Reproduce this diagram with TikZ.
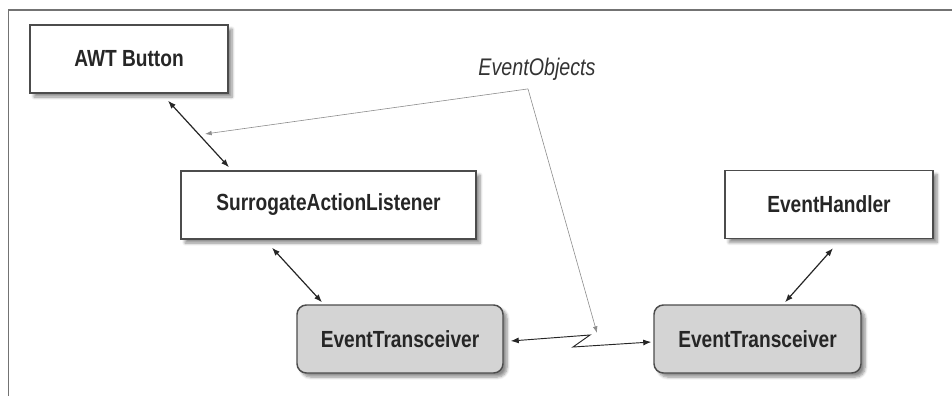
\documentclass[tikz,border=0pt]{standalone}
\usepackage{fontspec}
\setmainfont{Liberation Sans}[FakeStretch=0.82]
\usetikzlibrary{positioning,calc,arrows.meta,shadows.blur}

\begin{document}
\begin{tikzpicture}[
  x=0.75pt, y=-0.75pt,
  plainbox/.style={draw=black!70, line width=1.1pt, fill=white,
    minimum height=51pt, inner sep=0pt, align=center,
    font=\fontsize{17.5}{20}\selectfont\bfseries, text=black!85,
    blur shadow={shadow xshift=3pt, shadow yshift=-3pt, shadow blur steps=6, shadow opacity=45}},
  transbox/.style={plainbox, fill=black!17, rounded corners=7pt},
  dblarrow/.style={{Latex[length=6pt,width=4.5pt]}-{Latex[length=6pt,width=4.5pt]}, line width=0.9pt, black!85},
  eoline/.style={-{Latex[length=5pt,width=3.5pt]}, line width=0.45pt, black!45},
]
\useasboundingbox (0,0) rectangle (952,396);

% frame
\draw[black!55, line width=1.3pt] (8.5,396) -- (8.5,10) -- (952,10);

% boxes
\node[plainbox, minimum width=148.5pt] (awt) at (129,59) {AWT Button};
\node[plainbox, minimum width=221.25pt] (sal) at (328.5,205) {SurrogateActionListener};
\node[plainbox, minimum width=156pt] (eh) at (829,204.5) {EventHandler};
\node[transbox, minimum width=154.5pt] (et1) at (400,339) {EventTransceiver};
\node[transbox, minimum width=155.25pt] (et2) at (757.5,339) {EventTransceiver};

\node[font=\fontsize{18}{20}\selectfont\itshape, text=black!80] (eo) at (537,69) {EventObjects};
\coordinate (eosrc) at ($(eo.south)+(-9,4)$);

% connections
\draw[dblarrow] ($(awt.south)+(39,7)$) -- ($(sal.north)+(-99.5,-3)$);
\draw[dblarrow] ($(sal.south)+(-56.5,8)$) -- ($(et1.north)+(-78,-2)$);
\draw[dblarrow] ($(eh.south)+(4,9)$) -- ($(et2.north)+(27.5,-2)$);

\coordinate (zig1) at (590,335);
\coordinate (zig2) at (573,347);
\draw[dblarrow, line width=0.7pt] ($(et1.east)+(7,2)$) -- (zig1) -- (zig2) -- ($(et2.west)+(-2,3)$);

\draw[eoline] (eosrc) -- (205,134);
\draw[eoline] (eosrc) -- (597,333);
\end{tikzpicture}
\end{document}
